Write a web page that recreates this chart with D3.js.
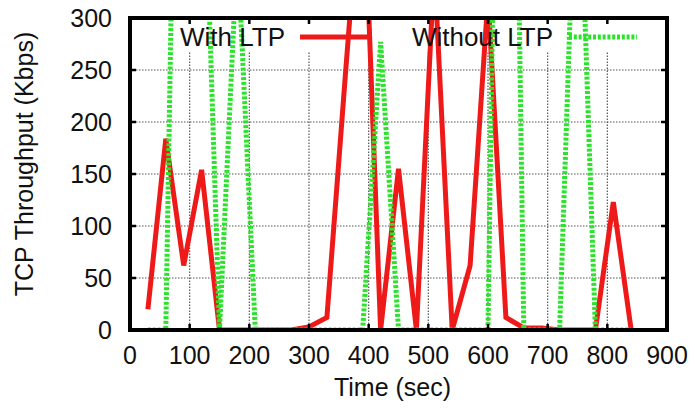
<!DOCTYPE html>
<meta charset='utf-8'>
<style>
    html, body {
        margin: 0;
        background: white;
    }

    text {
        font-family: 'Liberation Sans', Arial, sans-serif;
        fill: #111;
    }

    .grid line {
        stroke: #555;
        stroke-width: 1.2;
        stroke-dasharray: 1.5, 1.5;
    }
</style>
<title>TCP Throughput: With / Without LTP</title>
<body>

<script src='https://d3js.org/d3.v7.min.js'></script>
<script>

	// sample times (sec)
	let times = [30, 60, 90, 120, 150, 180, 210, 240, 270, 300, 330, 360, 390, 420,
		450, 480, 510, 540, 570, 600, 630, 660, 690, 720, 750, 780, 810, 840];

	// throughput (Kbps), values above 300 are clipped by the frame
	let withLTP = [20, 184, 62, 154, 0, 0, 0, 0, 0, 3, 12, 238, 460, 0,
		155, 0, 350, 0, 62, 320, 12, 2, 2, 0, 0, 0, 123, 0];
	let withoutLTP = [0, 0, 1030, 540, 0, 370, 0, 0, 0, 0, 0, 0, 0, 277,
		0, 0, 0, 0, 0, 0, 1200, 0, 0, 0, 515, 0, 0, 0];

	let seriesNames = ['With LTP', 'Without LTP'];
	let xTicks = [0, 100, 200, 300, 400, 500, 600, 700, 800, 900];
	let yTicks = [0, 50, 100, 150, 200, 250, 300];

	let width = 695, height = 410;
	let m = {left: 130, right: 667, top: 18, bottom: 330};

	let x = d3.scaleLinear().domain([0, 900]).range([m.left, m.right]);
	let y = d3.scaleLinear().domain([0, 300]).range([m.bottom, m.top]);

	let svg = d3.select('body').append('svg')
		.attr('width', width)
		.attr('height', height);

	svg.append('clipPath')
		.attr('id', 'plot')
		.append('rect')
		.attr('x', m.left)
		.attr('y', m.top)
		.attr('width', m.right - m.left)
		.attr('height', m.bottom - m.top);

	// grid
	let grid = svg.append('g').attr('class', 'grid');
	grid.selectAll('.vx')
		.data(xTicks.slice(1, -1))
		.enter().append('line')
		.attr('x1', d => x(d)).attr('x2', d => x(d))
		.attr('y1', m.bottom).attr('y2', 52);
	grid.selectAll('.hy')
		.data(yTicks.slice(1, -1))
		.enter().append('line')
		.attr('x1', m.left).attr('x2', m.right)
		.attr('y1', d => y(d)).attr('y2', d => y(d));

	// series
	let line = d3.line()
		.x((d, i) => x(times[i]))
		.y(d => y(d));

	let plot = svg.append('g').attr('clip-path', 'url(#plot)');

	plot.append('path')
		.datum(withLTP)
		.attr('d', line)
		.attr('fill', 'none')
		.attr('stroke', '#ee1a1a')
		.attr('stroke-width', 5)
		.attr('stroke-linejoin', 'miter');

	plot.append('path')
		.datum(withoutLTP)
		.attr('d', line)
		.attr('fill', 'none')
		.attr('stroke', '#2ae32a')
		.attr('stroke-width', 5)
		.attr('stroke-dasharray', '3,1.8');

	// legend
	let legend = [
		{name: seriesNames[0], textEnd: 285, x1: 300, x2: 370, color: '#ee1a1a', dash: null},
		{name: seriesNames[1], textEnd: 553, x1: 569, x2: 637, color: '#2ae32a', dash: '3,1.8'}
	];
	legend.forEach(function (d) {
		svg.append('text')
			.attr('x', d.textEnd)
			.attr('y', 46)
			.attr('text-anchor', 'end')
			.style('font-size', '26px')
			.text(d.name);
		svg.append('line')
			.attr('x1', d.x1).attr('x2', d.x2)
			.attr('y1', 37).attr('y2', 37)
			.attr('stroke', d.color)
			.attr('stroke-width', 5)
			.attr('stroke-dasharray', d.dash);
	});

	// ticks (inside, mirrored)
	let ticks = svg.append('g').attr('stroke', '#000').attr('stroke-width', 2.5);
	xTicks.slice(1, -1).forEach(function (t) {
		ticks.append('line').attr('x1', x(t)).attr('x2', x(t)).attr('y1', m.bottom).attr('y2', m.bottom - 6);
		ticks.append('line').attr('x1', x(t)).attr('x2', x(t)).attr('y1', m.top).attr('y2', m.top + 6);
	});
	yTicks.slice(1, -1).forEach(function (t) {
		ticks.append('line').attr('x1', m.left).attr('x2', m.left + 6).attr('y1', y(t)).attr('y2', y(t));
		ticks.append('line').attr('x1', m.right).attr('x2', m.right - 6).attr('y1', y(t)).attr('y2', y(t));
	});

	// frame
	svg.append('rect')
		.attr('x', m.left)
		.attr('y', m.top)
		.attr('width', m.right - m.left)
		.attr('height', m.bottom - m.top)
		.attr('fill', 'none')
		.attr('stroke', '#000')
		.attr('stroke-width', 4);

	// tick labels
	svg.selectAll('.xl')
		.data(xTicks)
		.enter().append('text')
		.attr('x', d => x(d))
		.attr('y', 364)
		.attr('text-anchor', 'middle')
		.style('font-size', '25px')
		.text(d => d);

	svg.selectAll('.yl')
		.data(yTicks)
		.enter().append('text')
		.attr('x', 112)
		.attr('y', d => y(d))
		.attr('dy', '0.36em')
		.attr('text-anchor', 'end')
		.style('font-size', '25px')
		.text(d => d);

	// axis titles
	svg.append('text')
		.attr('x', x(440))
		.attr('y', 396)
		.attr('text-anchor', 'middle')
		.style('font-size', '25px')
		.text('Time (sec)');

	svg.append('text')
		.attr('transform', 'translate(33,' + 164 + ') rotate(-90)')
		.attr('text-anchor', 'middle')
		.style('font-size', '25px')
		.text('TCP Throughput (Kbps)');

</script>
</body>
